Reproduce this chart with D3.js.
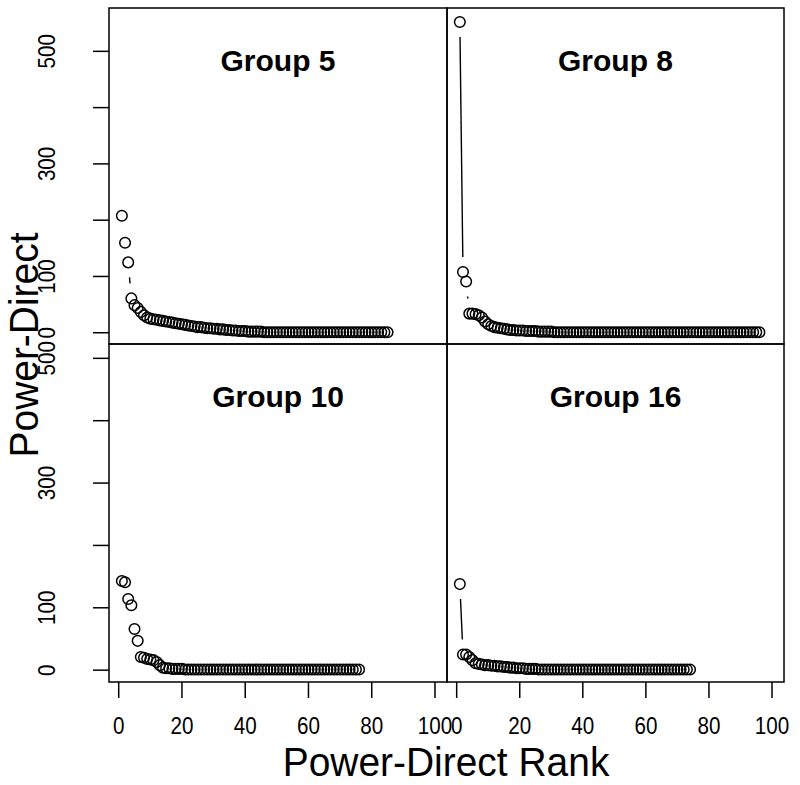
<!DOCTYPE html>
<html>
<head>
<meta charset="utf-8">
<script src="https://cdn.jsdelivr.net/npm/d3@7"></script>
<style>
  html, body { margin: 0; padding: 0; background: #fff; }
  svg { display: block; font-family: "Liberation Sans", Arial, sans-serif; }
</style>
</head>
<body>
<svg id="chart" width="800" height="785"></svg>
<script>
// ---- data ----
const groupNames = ["Group 5", "Group 8", "Group 10", "Group 16"];

function withTail(head, total, tailValue) {
  const out = head.slice();
  while (out.length < total) out.push(tailValue);
  return out;
}

const group5 = withTail([208,160,125,61,49,44,37,31,27,25,24,23,22,21,20,19,18,17,16,15,14,13,12,11,10,10,9,8,8,7,7,6,6,5,5,4,4,3,3,3,2,2,2,2,2], 85, 1);
const group8 = withTail([552,108,91,34,34,33,31,27,20,15,12,10,9,8,7,6,5,5,4,4,4,3,3,3,3,2,2,2,2,2], 96, 1);
const group10 = withTail([143,141,114,104,66,47,21,20,18,17,16,13,8,4,3,3,2,2,2,2], 76, 1);
const group16 = withTail([138,25,25,21,16,11,10,9,8,8,7,7,6,6,5,5,4,4,3,3,3,2,2,2,2], 74, 1);

const seriesValues = [group5, group8, group10, group16];
const xTicks = [0, 20, 40, 60, 80, 100];
const yTicks = [0, 100, 200, 300, 400, 500];
const yTickLabels = ["0", "100", "", "300", "", "500"];

// ---- layout ----
const svg = d3.select("#chart");
const colsX = [[109, 447], [447, 784]];
const rowsY = [[8, 344], [344, 682]];
const xDomain = [-3.07, 103.8];
const yDomains = [[-20, 577], [-19, 523]];
const gap = 15, radius = 5.3;
const tickSqueeze = 0.86;
const titleSqueeze = 0.95;

const panels = [
  {row: 0, col: 0}, {row: 0, col: 1}, {row: 1, col: 0}, {row: 1, col: 1}
];

panels.forEach((p, i) => {
  const [x0, x1] = colsX[p.col];
  const [y0, y1] = rowsY[p.row];
  const x = d3.scaleLinear().domain(xDomain).range([x0, x1]);
  const y = d3.scaleLinear().domain(yDomains[p.row]).range([y1, y0]);
  const vals = seriesValues[i];
  const pts = vals.map((v, k) => [x(k + 1), y(v)]);
  const g = svg.append("g");

  // type="b" connecting segments with gaps around points
  for (let k = 0; k < pts.length - 1; k++) {
    const [ax, ay] = pts[k], [bx, by] = pts[k + 1];
    const dx = bx - ax, dy = by - ay, d = Math.hypot(dx, dy);
    if (d > 2 * gap) {
      const ux = dx / d, uy = dy / d;
      g.append("line")
        .attr("x1", ax + ux * gap).attr("y1", ay + uy * gap)
        .attr("x2", bx - ux * gap).attr("y2", by - uy * gap)
        .attr("stroke", "#000").attr("stroke-width", 1.4);
    }
  }
  g.selectAll("circle").data(vals).join("circle")
    .attr("cx", (v, k) => x(k + 1))
    .attr("cy", v => y(v))
    .attr("r", radius)
    .attr("fill", "none")
    .attr("stroke", "#000")
    .attr("stroke-width", 1.5);

  // title
  svg.append("text")
    .attr("x", (x0 + x1) / 2)
    .attr("y", y0 + 63)
    .attr("text-anchor", "middle")
    .attr("font-size", 30)
    .attr("font-weight", "bold")
    .text(groupNames[i]);

  // panel frame
  svg.append("rect")
    .attr("x", x0).attr("y", y0)
    .attr("width", x1 - x0).attr("height", y1 - y0)
    .attr("fill", "none").attr("stroke", "#000").attr("stroke-width", 1.5);

  // y axis on left column
  if (p.col === 0) {
    const ya = svg.append("g");
    yTicks.forEach((t, k) => {
      const ty = y(t);
      ya.append("line").attr("x1", x0 - 16).attr("x2", x0)
        .attr("y1", ty).attr("y2", ty)
        .attr("stroke", "#000").attr("stroke-width", 1.5);
      if (yTickLabels[k]) {
        ya.append("text")
          .attr("transform", `translate(55,${ty}) rotate(-90) scale(${tickSqueeze},1)`)
          .attr("text-anchor", "middle")
          .attr("font-size", 24)
          .text(yTickLabels[k]);
      }
    });
  }
  // x axis on bottom row
  if (p.row === 1) {
    const xa = svg.append("g");
    xTicks.forEach(t => {
      const tx = x(t);
      xa.append("line").attr("x1", tx).attr("x2", tx)
        .attr("y1", y1).attr("y2", y1 + 16)
        .attr("stroke", "#000").attr("stroke-width", 1.5);
      xa.append("text")
        .attr("transform", `translate(${tx},734) scale(${tickSqueeze},1)`)
        .attr("text-anchor", "middle")
        .attr("font-size", 24)
        .text(t);
    });
  }
});

// axis titles
svg.append("text")
  .attr("transform", `translate(446,776) scale(${titleSqueeze},1)`)
  .attr("text-anchor", "middle")
  .attr("font-size", 41)
  .text("Power-Direct Rank");
svg.append("text")
  .attr("transform", `translate(38,345) rotate(-90) scale(${titleSqueeze},1)`)
  .attr("text-anchor", "middle")
  .attr("font-size", 41)
  .text("Power-Direct");
</script>
</body>
</html>
